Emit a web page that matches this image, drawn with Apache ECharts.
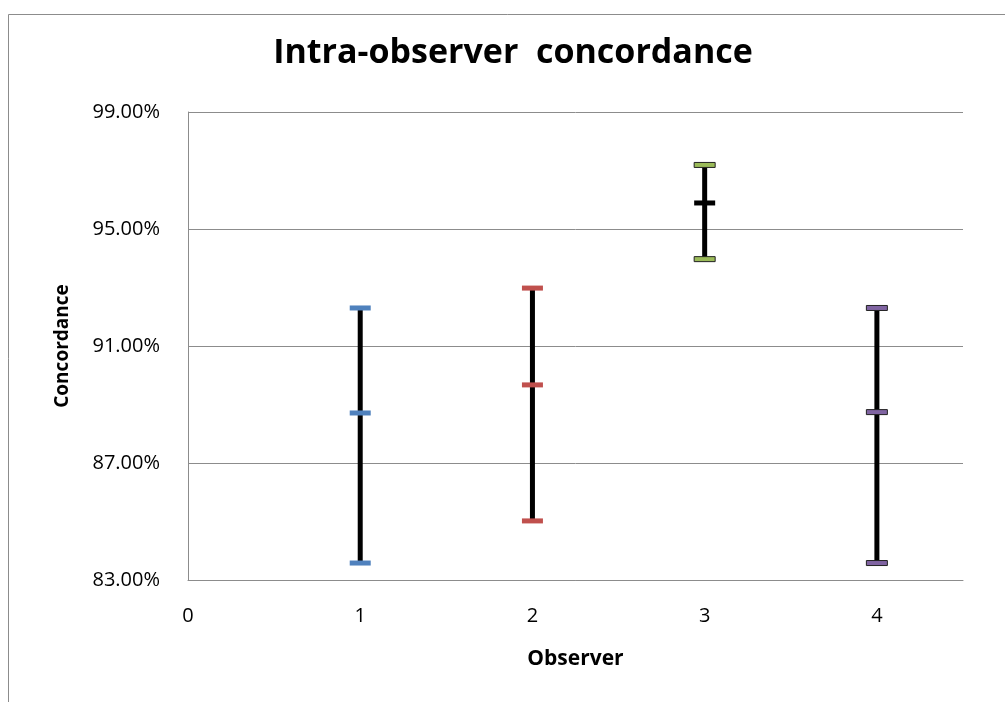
<!DOCTYPE html>
<html>
<head>
<meta charset="utf-8">
<script src="https://cdn.jsdelivr.net/npm/echarts@6/dist/echarts.min.js"></script>
<style>
  html, body { margin: 0; padding: 0; background: #fff; }
  #main { width: 1005px; height: 702px; }
</style>
</head>
<body>
<div id="main"></div>
<script>
// observer data (percent)
var observers = [1, 2, 3, 4];
var lowValues = [83.58, 85.02, 93.97, 83.58];
var meanValues = [88.71, 89.67, 95.89, 88.74];
var highValues = [92.30, 92.98, 97.19, 92.30];
var capColors = ['#4F81BD', '#C0504D', '#9BBB59', '#8064A2'];
var midColors = ['#4F81BD', '#C0504D', '#000000', '#8064A2'];
var xTicks = [0, 1, 2, 3, 4];

var chartData = observers.map(function (o, i) {
  return [o, lowValues[i], meanValues[i], highValues[i]];
});

var myChart = echarts.init(document.getElementById('main'));

var option = {
  animation: false,
  backgroundColor: '#fff',
  title: {
    text: 'Intra-observer  concordance',
    left: 508,
    top: 31,
    textAlign: 'center',
    textStyle: {
      fontFamily: 'Open Sans',
      fontSize: 34,
      fontWeight: 'bold',
      color: '#000'
    }
  },
  graphic: [{
    type: 'rect',
    shape: { x: 8.5, y: 14.5, width: 1010, height: 700 },
    style: { fill: 'none', stroke: '#8c8c8c', lineWidth: 1 },
    silent: true
  }],
  grid: {
    left: 188,
    right: 42,
    top: 112,
    bottom: 122
  },
  xAxis: {
    type: 'value',
    min: 0,
    max: 4.5,
    interval: 1,
    name: 'Observer',
    nameLocation: 'middle',
    nameGap: 69,
    nameTextStyle: {
      fontFamily: 'Open Sans',
      fontSize: 21,
      fontWeight: 'bold',
      color: '#000'
    },
    axisLine: { show: true, lineStyle: { color: '#8c8c8c', width: 1 } },
    axisTick: { show: false },
    splitLine: { show: false },
    axisLabel: {
      margin: 26,
      fontFamily: 'Open Sans',
      fontSize: 20,
      color: '#000',
      formatter: function (v) {
        return xTicks.indexOf(v) >= 0 ? String(v) : '';
      }
    }
  },
  yAxis: {
    type: 'value',
    min: 83,
    max: 99,
    interval: 4,
    name: 'Concordance',
    nameLocation: 'middle',
    nameGap: 116,
    nameRotate: 90,
    nameTextStyle: {
      fontFamily: 'Open Sans',
      fontSize: 19,
      fontWeight: 'bold',
      color: '#000'
    },
    axisLine: { show: true, lineStyle: { color: '#8c8c8c', width: 1 } },
    axisTick: { show: false },
    splitLine: { show: true, lineStyle: { color: '#8c8c8c', width: 1 } },
    axisLabel: {
      margin: 28,
      fontFamily: 'Open Sans',
      fontSize: 20,
      color: '#000',
      formatter: function (v) { return v.toFixed(2) + '%'; }
    }
  },
  series: [{
    type: 'custom',
    data: chartData,
    renderItem: function (params, api) {
      var i = params.dataIndex;
      var x = api.value(0);
      var pLow = api.coord([x, api.value(1)]);
      var pMid = api.coord([x, api.value(2)]);
      var pHigh = api.coord([x, api.value(3)]);
      var capW = 21, capH = 5;
      var capStroke = (i >= 2) ? '#222' : null;
      function cap(p, color, stroke) {
        return {
          type: 'rect',
          shape: { x: p[0] - capW / 2, y: p[1] - capH / 2, width: capW, height: capH },
          style: { fill: color, stroke: stroke, lineWidth: stroke ? 1 : 0 }
        };
      }
      return {
        type: 'group',
        children: [
          {
            type: 'line',
            shape: { x1: pLow[0], y1: pLow[1], x2: pHigh[0], y2: pHigh[1] },
            style: { stroke: '#000', lineWidth: 5 }
          },
          cap(pHigh, capColors[i], capStroke),
          cap(pMid, midColors[i], i === 3 ? '#222' : null),
          cap(pLow, capColors[i], capStroke)
        ]
      };
    }
  }]
};

myChart.setOption(option);
</script>
</body>
</html>
